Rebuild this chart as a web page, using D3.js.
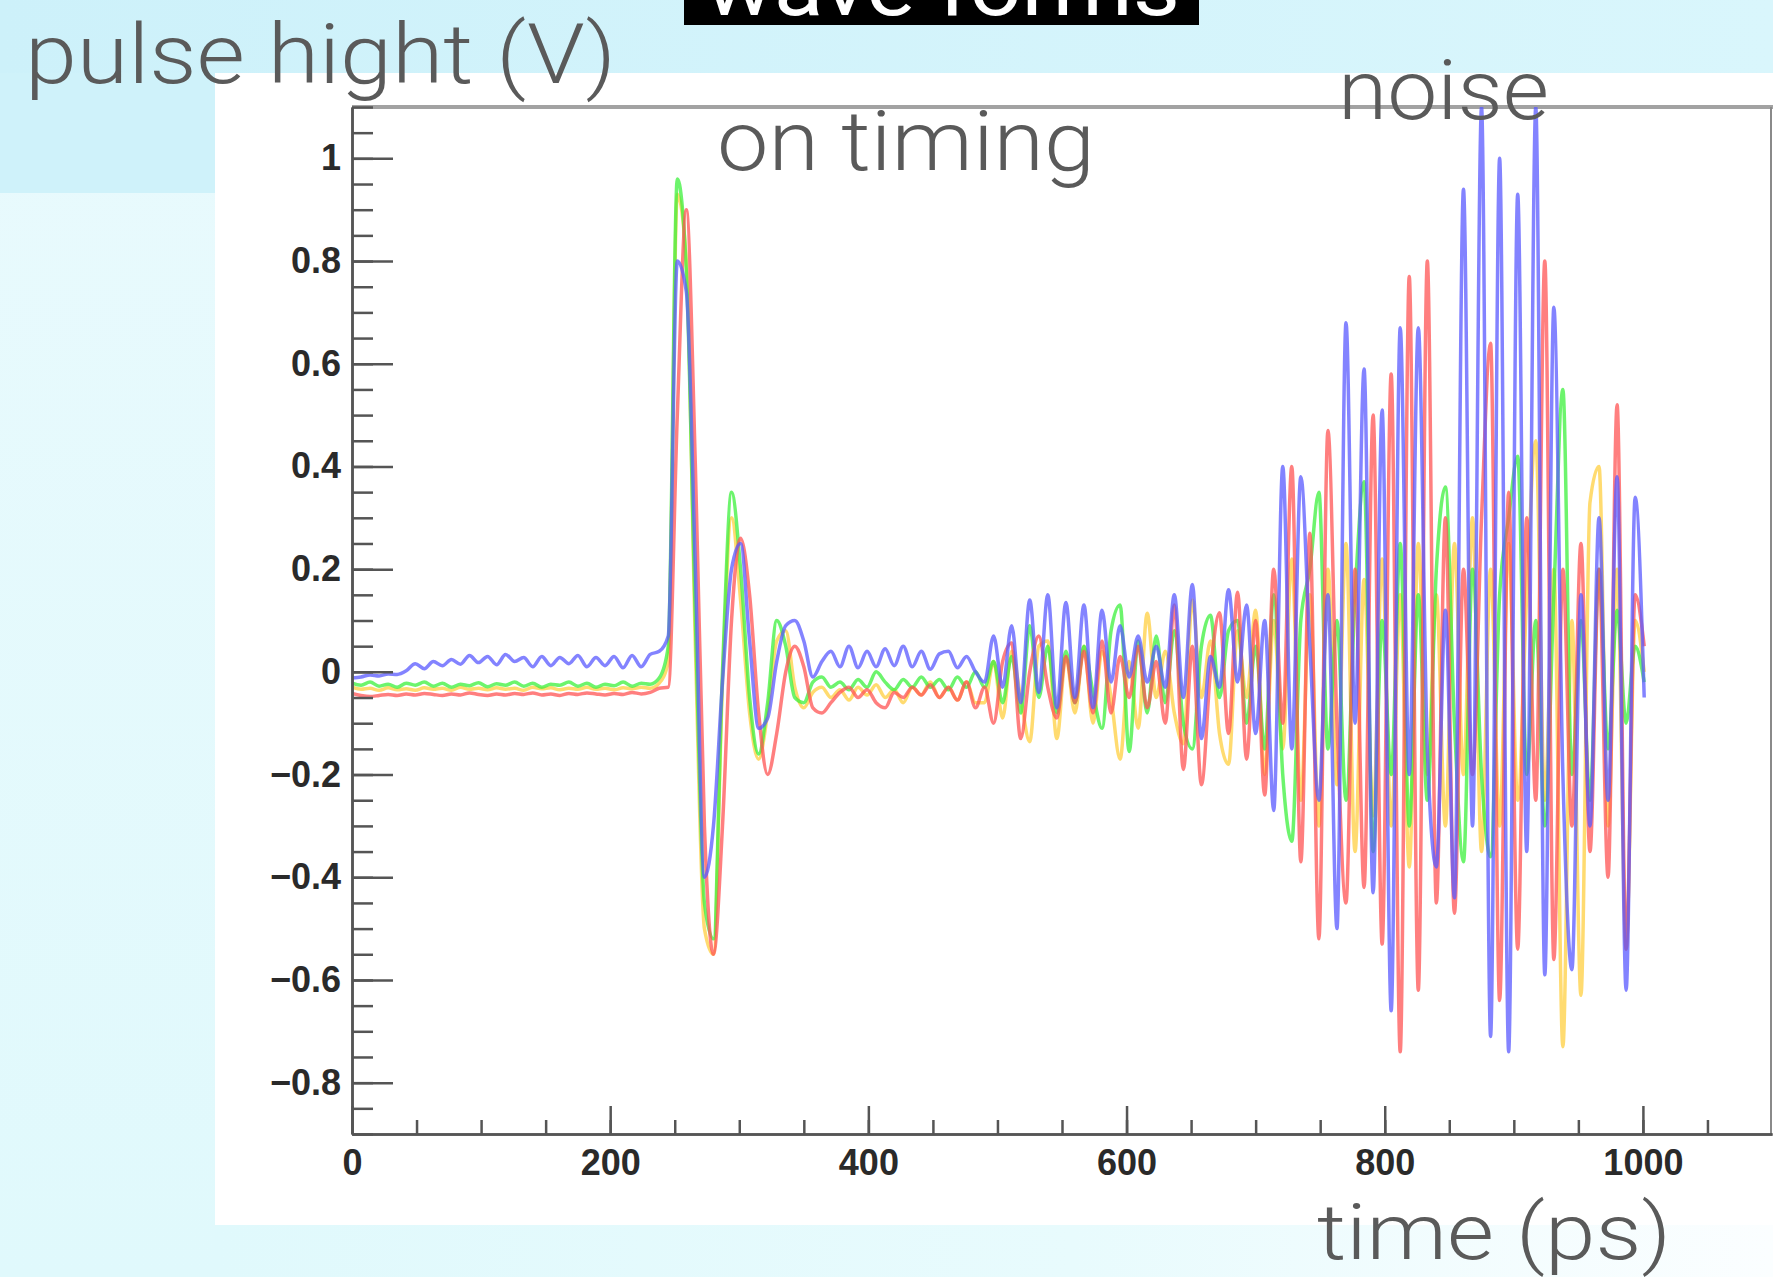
<!DOCTYPE html>
<html><head><meta charset="utf-8">
<script src="https://cdn.jsdelivr.net/npm/d3@7"></script>
<style>html,body{margin:0;padding:0;background:#fff;overflow:hidden}</style>
</head><body>
<svg id="chart" width="1773" height="1277"></svg>
<script>
// ---- data (time in ps, sampled every 7 ps from 0 to 1001) ----
const sampleTimes = d3.range(0, 1002, 7);

const blueValues = [
-0.012,-0.010,-0.006,-0.008,-0.004,-0.005,0.002,0.016,0.006,0.020,
0.012,0.024,0.015,0.032,0.018,0.030,0.014,0.034,0.020,0.028,
0.010,0.030,0.012,0.028,0.016,0.032,0.010,0.028,0.012,0.030,
0.008,0.032,0.010,0.034,0.040,
0.07,0.80,0.74,0.20,-0.40,-0.30,-0.02,0.20,0.25,0.06,-0.11,-0.09,0.02,0.09,0.10,0.06,-0.01,
0.02,0.04,0.01,0.05,0.008,0.04,0.01,0.045,0.012,0.05,0.01,0.04,0.005,0.035,0.04,0.008,0.03,0.0,
-0.02,0.07,-0.03,0.09,-0.06,0.14,-0.04,0.15,-0.07,0.135,
-0.05,0.13,-0.07,0.12,-0.02,0.09,-0.01,0.07,-0.02,0.05,
-0.03,0.15,-0.05,0.17,-0.13,0.03,-0.03,0.16,-0.02,0.13,
-0.12,0.10,-0.27,0.40,-0.15,0.38,0.05,-0.25,0.15,-0.50,
0.68,-0.10,0.59,-0.43,0.51,-0.66,0.67,-0.20,0.67,-0.15,
-0.38,0.12,-0.44,0.94,-0.30,1.10,-0.71,1.00,-0.74,0.93,
-0.35,1.10,-0.59,0.71,-0.20,-0.58,0.15,-0.30,0.30,-0.25,
0.38,-0.62,0.34,-0.05];

const redValues = [
-0.042,-0.046,-0.048,-0.046,-0.044,-0.046,-0.043,-0.045,-0.042,-0.044,
-0.046,-0.043,-0.045,-0.041,-0.044,-0.046,-0.043,-0.045,-0.042,-0.044,
-0.041,-0.045,-0.043,-0.046,-0.042,-0.044,-0.041,-0.043,-0.045,-0.042,
-0.044,-0.040,-0.043,-0.040,-0.032,
-0.03,0.50,0.90,0.40,-0.30,-0.55,-0.30,0.10,0.26,0.15,-0.08,-0.20,-0.12,0.00,0.05,0.01,-0.07,
-0.08,-0.06,-0.04,-0.03,-0.05,-0.035,-0.06,-0.07,-0.04,-0.05,-0.03,-0.045,-0.025,-0.05,-0.03,-0.055,-0.02,-0.07,
-0.03,-0.10,0.02,0.056,-0.13,0.0,0.07,-0.03,-0.09,0.03,
-0.06,0.04,-0.08,0.06,-0.08,0.03,-0.05,0.05,-0.07,0.02,
-0.10,0.13,-0.19,0.05,-0.22,0.0,0.115,-0.12,0.155,-0.17,
0.10,-0.24,0.20,-0.10,0.40,-0.37,0.27,-0.52,0.47,-0.10,
-0.45,0.20,-0.42,0.50,-0.53,0.58,-0.74,0.77,-0.62,0.80,
-0.45,0.30,-0.47,0.20,-0.20,0.30,0.64,-0.64,0.35,-0.54,
0.30,-0.25,0.80,-0.56,0.20,-0.30,0.25,-0.35,0.20,-0.40,
0.52,-0.54,0.15,0.05];

const greenValues = [
-0.022,-0.026,-0.020,-0.028,-0.024,-0.030,-0.022,-0.026,-0.020,-0.028,
-0.022,-0.030,-0.024,-0.027,-0.021,-0.029,-0.023,-0.026,-0.020,-0.028,
-0.022,-0.030,-0.024,-0.026,-0.020,-0.028,-0.022,-0.030,-0.024,-0.027,
-0.020,-0.028,-0.022,-0.024,-0.012,
0.05,0.96,0.78,0.10,-0.45,-0.52,0.00,0.35,0.20,-0.05,-0.16,-0.06,0.10,0.05,-0.05,-0.06,-0.02,
-0.01,-0.03,-0.02,-0.035,-0.015,-0.03,0.0,-0.02,-0.035,-0.015,-0.03,-0.01,-0.03,-0.015,-0.035,-0.01,-0.03,0.0,
-0.03,0.02,-0.06,0.03,-0.08,0.09,-0.05,0.05,-0.08,0.04,
-0.06,0.05,-0.04,-0.11,0.08,0.13,-0.155,0.06,-0.08,0.07,
-0.06,0.08,-0.10,-0.15,0.05,0.11,-0.05,0.08,0.10,-0.10,
0.05,-0.15,0.15,-0.20,-0.33,0.10,0.20,0.35,-0.15,0.10,
-0.25,0.15,0.37,-0.35,0.10,-0.20,0.25,-0.30,0.15,-0.25,
0.20,0.36,-0.10,-0.37,0.20,-0.20,-0.36,0.15,0.30,0.42,
-0.20,0.10,-0.30,0.15,0.55,-0.20,0.10,-0.25,0.20,-0.15,
0.12,-0.10,0.05,-0.02];

const yellowValues = [
-0.030,-0.034,-0.032,-0.036,-0.031,-0.035,-0.033,-0.036,-0.031,-0.034,
-0.032,-0.036,-0.030,-0.034,-0.032,-0.035,-0.031,-0.034,-0.032,-0.036,
-0.030,-0.033,-0.031,-0.035,-0.032,-0.034,-0.030,-0.034,-0.032,-0.035,
-0.031,-0.033,-0.030,-0.032,-0.022,
0.02,0.93,0.80,0.05,-0.50,-0.55,-0.02,0.30,0.14,-0.08,-0.17,-0.08,0.06,0.08,-0.03,-0.07,-0.04,
-0.03,-0.05,-0.035,-0.055,-0.03,-0.045,-0.025,-0.05,-0.035,-0.06,-0.03,-0.045,-0.02,-0.05,-0.03,-0.055,-0.02,-0.06,
-0.06,0.02,-0.09,0.04,-0.05,-0.136,0.05,0.06,-0.13,0.03,
-0.08,0.05,-0.10,0.04,-0.05,-0.17,0.02,-0.11,0.114,-0.05,
0.04,-0.08,-0.14,0.14,-0.05,0.06,-0.12,-0.18,0.08,-0.05,
0.12,-0.20,0.10,-0.15,0.22,-0.25,0.15,-0.30,0.20,-0.22,
0.25,-0.35,0.18,-0.28,0.22,-0.30,0.15,-0.38,0.25,-0.20,
0.15,-0.30,0.25,-0.20,0.30,-0.35,0.20,-0.30,0.25,-0.25,
0.15,0.45,-0.25,0.20,-0.73,0.10,-0.63,0.33,0.40,-0.30,
0.20,-0.54,0.10,0.0];

const seriesNames = ["yellow", "green", "red", "blue"];
const seriesColors = ["#ffcf40", "#3cf03c", "#ff5454", "#5a5aff"];
const seriesValues = [yellowValues, greenValues, redValues, blueValues];

const xMajorTicks = [0, 200, 400, 600, 800, 1000];
const xTickLabels = ["0", "200", "400", "600", "800", "1000"];
const yMajorTicks = [-0.8, -0.6, -0.4, -0.2, 0, 0.2, 0.4, 0.6, 0.8, 1];
const yTickLabels = ["\u22120.8", "\u22120.6", "\u22120.4", "\u22120.2", "0", "0.2", "0.4", "0.6", "0.8", "1"];
const xMinorTicks = d3.range(50, 1100, 50);
const yMinorTicks = d3.range(-18, 23).map(k => k * 0.05);

// ---- drawing ----
const W = 1773, H = 1277;
const svg = d3.select("#chart");
const defs = svg.append("defs");

const gTop = defs.append("linearGradient").attr("id", "gTop").attr("x1", 0).attr("x2", 1);
gTop.append("stop").attr("offset", 0).attr("stop-color", "#cdf1fa");
gTop.append("stop").attr("offset", 1).attr("stop-color", "#d9f6fc");
const gLeft = defs.append("linearGradient").attr("id", "gLeft").attr("x1", 0).attr("x2", 0).attr("y1", 0).attr("y2", 1);
gLeft.append("stop").attr("offset", 0).attr("stop-color", "#e9fafd");
gLeft.append("stop").attr("offset", 1).attr("stop-color", "#e0f9fc");
const gBot = defs.append("linearGradient").attr("id", "gBot").attr("x1", 0).attr("x2", 1);
gBot.append("stop").attr("offset", 0).attr("stop-color", "#e0f9fc");
gBot.append("stop").attr("offset", 0.55).attr("stop-color", "#e8fbfd");
gBot.append("stop").attr("offset", 1).attr("stop-color", "#fbfeff");

svg.append("rect").attr("width", W).attr("height", H).attr("fill", "url(#gLeft)");
svg.append("rect").attr("x", 0).attr("y", 0).attr("width", W).attr("height", 73).attr("fill", "url(#gTop)");
svg.append("rect").attr("x", 0).attr("y", 73).attr("width", 215).attr("height", 120).attr("fill", "#cff2fa");
svg.append("rect").attr("x", 215).attr("y", 73).attr("width", W - 215).attr("height", 1152).attr("fill", "#ffffff");
svg.append("rect").attr("x", 215).attr("y", 1225).attr("width", W - 215).attr("height", 52).attr("fill", "url(#gBot)");

// black title box
svg.append("rect").attr("x", 684).attr("y", 0).attr("width", 515).attr("height", 25).attr("fill", "#000");
svg.append("text").attr("x", 705).attr("y", 15)
  .attr("font-family", "Roboto, 'Liberation Sans', sans-serif").attr("font-size", 84)
  .attr("fill", "#fff").attr("textLength", 475).attr("lengthAdjust", "spacingAndGlyphs")
  .text("wave forms");

const x = d3.scaleLinear().domain([0, 1100]).range([352, 1772]);
const y = d3.scaleLinear().domain([-0.9, 1.1]).range([1134, 107]);

defs.append("clipPath").attr("id", "plotClip").append("rect")
  .attr("x", 352).attr("y", 107).attr("width", 1772 - 352).attr("height", 1134 - 107);

// frame
svg.append("line").attr("x1", 352).attr("x2", W).attr("y1", 107).attr("y2", 107)
  .attr("stroke", "#a2a2a2").attr("stroke-width", 4);
svg.append("line").attr("x1", 1771).attr("x2", 1771).attr("y1", 107).attr("y2", 1134)
  .attr("stroke", "#8a8a8a").attr("stroke-width", 2);

// lines
const line = d3.line().x((d, i) => x(sampleTimes[i])).y(d => y(d)).curve(d3.curveMonotoneX);
const gLines = svg.append("g").attr("clip-path", "url(#plotClip)");
seriesValues.forEach((vals, k) => {
  gLines.append("path").datum(vals)
    .attr("d", line)
    .attr("fill", "none")
    .attr("stroke", seriesColors[k])
    .attr("stroke-width", 3.5)
    .attr("stroke-opacity", 0.75)
    .attr("stroke-linejoin", "round")
    .attr("class", "series-" + seriesNames[k]);
});

// axes
const axisColor = "#555";
const yAxis = svg.append("g").attr("transform", "translate(352,0)")
  .call(d3.axisLeft(y).tickValues(yMajorTicks).tickFormat((d, i) => yTickLabels[i])
    .tickSizeInner(-41).tickSizeOuter(0).tickPadding(11));
const yMinor = svg.append("g").attr("transform", "translate(352,0)")
  .call(d3.axisLeft(y).tickValues(yMinorTicks).tickFormat("").tickSizeInner(-21).tickSizeOuter(0));
const xAxis = svg.append("g").attr("transform", "translate(0,1134)")
  .call(d3.axisBottom(x).tickValues(xMajorTicks).tickFormat((d, i) => xTickLabels[i])
    .tickSizeInner(-28).tickSizeOuter(0).tickPadding(15));
const xMinor = svg.append("g").attr("transform", "translate(0,1134)")
  .call(d3.axisBottom(x).tickValues(xMinorTicks).tickFormat("").tickSizeInner(-14).tickSizeOuter(0));

[yAxis, yMinor, xAxis, xMinor].forEach(g => {
  g.selectAll("path.domain").attr("stroke", axisColor).attr("stroke-width", 2.5);
  g.selectAll(".tick line").attr("stroke", axisColor).attr("stroke-width", 2.5);
  g.selectAll("text").attr("font-family", "'Liberation Sans', Arial, sans-serif")
    .attr("font-size", 36).attr("font-weight", "bold").attr("fill", "#2a2a2a");
});

// annotations
const annFont = "Roboto, 'Open Sans', sans-serif";
function ann(txt, xx, yy, len, size) {
  svg.append("text").attr("x", xx).attr("y", yy)
    .attr("font-family", annFont).attr("font-weight", 300).attr("font-size", size)
    .attr("fill", "#5a5a5a").attr("textLength", len).attr("lengthAdjust", "spacingAndGlyphs")
    .text(txt);
}
ann("pulse hight (V)", 25, 83, 591, 84);
ann("on timing", 717, 170, 378, 84);
ann("noise", 1338, 119, 211, 84);
ann("time (ps)", 1317, 1259, 354, 78);
</script>
</body></html>
